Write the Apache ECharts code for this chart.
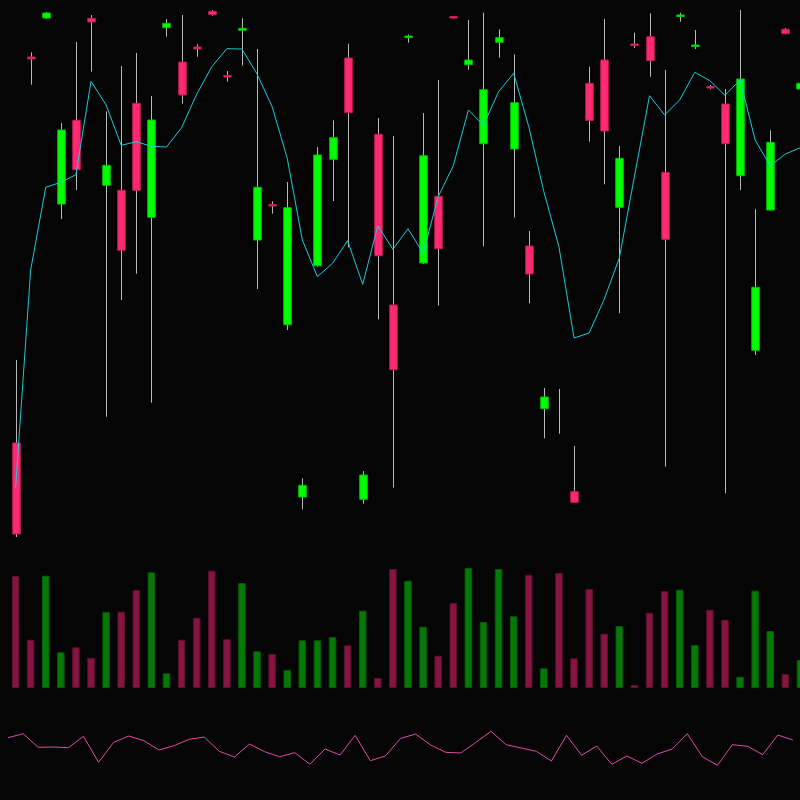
<!DOCTYPE html>
<html>
<head>
<meta charset="utf-8">
<script src="https://cdn.jsdelivr.net/npm/echarts@6/dist/echarts.min.js"></script>
<style>
html,body{margin:0;padding:0;background:#050505;}
#c{width:800px;height:800px;}
</style>
</head>
<body>
<div id="c"></div>
<script>
const categories = ['1','2','3','4','5','6','7','8','9','10','11','12','13','14','15','16','17','18','19','20','21','22','23','24','25','26','27','28','29','30','31','32','33','34','35','36','37','38','39','40','41','42','43','44','45','46','47','48','49','50','51','52','53'];
const oscCategories = ['a1','a2','a3','a4','a5','a6','a7','a8','a9','a10','a11','a12','a13','a14','a15','a16','a17','a18','a19','a20','a21','a22','a23','a24','a25','a26','a27','a28','a29','a30','a31','a32','a33','a34','a35','a36','a37','a38','a39','a40','a41','a42','a43','a44','a45','a46','a47','a48','a49','a50','a51','a52','a53','a54'];

const opens  = [97,483,522,336,419.7,521.7,354.7,349.7,436.7,322.7,512.3,478,493,528.7,464.5,509.7,300,335.5,215.3,43,274.3,380.7,482,40.7,405.7,235,502.5,277,343.7,523.5,475.3,396.3,497.7,391,294,131.3,129,48.3,456.7,480,332.7,496,503.3,367.7,523.5,493.5,453.5,436,364.3,189.7,330,510.7,451];
const closes = [6,481,527,410,370.3,518,374.7,289.7,349.7,420,516.7,445,491,525.3,463,511.7,352.7,334,332.3,54.7,385,402.3,427.3,65,284.3,170.3,504,384.3,291.3,522,480,450.3,502.3,437.3,266,143,129,37.7,419.7,409,381.7,494.5,479.3,300.7,525,495,452,396.3,461,252.7,397.7,506.3,456.7];
const lows   = [3,455.3,521,321,350,468.3,123.3,240,266.3,137.3,503.3,436.3,483.3,524.3,458.3,474.3,251,326.3,210,30.7,273.3,339,292.7,36.3,220.7,52.3,497.3,276,234.3,521.5,470.3,293.7,482.3,322.3,236.7,101.7,106.3,37.7,398.3,355.7,226.7,492,463.3,73.3,518.3,491,450.7,46.7,350,185,329.3,505.7,420];
const highs  = [180,487.7,528,417,498,525,428.7,474,487,444,521,525,495.7,530,469,521.7,491,338.7,358,61.7,393,419.7,496.3,69,422,404,505.3,427,460,524,520,527.3,510.7,485.7,309,152,151,94,473.3,521,394,507.3,526.7,470,527.3,510,455,451,530,330.7,409.7,512,457];
const maLine = [52,270,352.7,357.7,365.3,458.7,435,394.7,398.3,393.7,393,412.3,445.7,473.3,491.3,491,466,433.3,381.7,300,263.3,276.7,299.3,255.7,314.3,290.7,311.3,286.7,343.3,374.3,430,414.7,448.3,466.7,413.3,348.3,293.3,202,207,240.7,282,363.3,444.3,425,440,467.7,459.3,444.7,460,400,374,386,392.3];
const volumes = [112,48.3,112.3,35.7,40.7,30.3,76,76.3,98,115.7,14.7,48.3,70.3,117.3,49,105,36.7,34,18,47.7,47.7,51,42.7,77.3,10,119,107.3,61.3,32.3,85,120,66,119,71.7,113.3,19.7,115,29.7,99,54.3,62,3,75.3,97,98.3,43,78.3,68.3,11.3,97.3,57,14,28];
const oscillator = [42.3,46.3,32.7,33,32.3,43.7,17.7,37.7,44,39.3,30,34.3,40.7,43,28.7,23,36,28.3,23.3,27.3,15.7,31,25,44.7,19.3,24,41.5,46,35,27.7,27,37.7,48.7,35.3,32,28.7,19,44.7,24.7,34,15.7,24,16.7,26,31,46.3,23.3,14.7,35.3,33.7,25.3,45,40];

const UP = '#00ff00', UP_EDGE = '#00c400';
const DOWN = '#ff2a72', DOWN_EDGE = '#c01c56';
const VUP = '#067a06', VUP_EDGE = '#045a04';
const VDOWN = '#861641', VDOWN_EDGE = '#5c0e2c';

const candleData = categories.map((c, i) => [i, opens[i], closes[i], lows[i], highs[i]]);
const volData = volumes.map((v, i) => ({
  value: v,
  itemStyle: closes[i] > opens[i]
    ? { color: VUP, borderColor: VUP_EDGE, borderWidth: 1 }
    : { color: VDOWN, borderColor: VDOWN_EDGE, borderWidth: 1 }
}));

const chart = echarts.init(document.getElementById('c'), null, { renderer: 'canvas' });
chart.setOption({
  backgroundColor: '#050505',
  animation: false,
  grid: [
    { left: 8, width: 800, top: 0, height: 540, outerBoundsMode: 'none', containLabel: false },
    { left: 8, width: 800, top: 560, height: 128, outerBoundsMode: 'none', containLabel: false },
    { left: 8, width: 800, top: 700, height: 80, outerBoundsMode: 'none', containLabel: false }
  ],
  xAxis: [
    { type: 'category', gridIndex: 0, data: categories, boundaryGap: true, show: false },
    { type: 'category', gridIndex: 1, data: categories, boundaryGap: true, show: false },
    { type: 'category', gridIndex: 2, data: oscCategories, boundaryGap: false, show: false }
  ],
  yAxis: [
    { type: 'value', gridIndex: 0, min: 0, max: 540, show: false },
    { type: 'value', gridIndex: 1, min: 0, max: 128, show: false },
    { type: 'value', gridIndex: 2, min: 0, max: 80, show: false }
  ],
  series: [
    {
      type: 'custom',
      xAxisIndex: 0, yAxisIndex: 0,
      data: candleData,
      encode: { x: 0, y: [1, 2, 3, 4] },
      renderItem: function (params, api) {
        const i = api.value(0);
        const o = api.value(1), c = api.value(2), l = api.value(3), h = api.value(4);
        const pt = api.coord([i, h]), pb = api.coord([i, l]);
        const po = api.coord([i, o]), pc = api.coord([i, c]);
        const bw = api.size([1, 0])[0] * 0.5;
        const up = c > o;
        const x = Math.round(pt[0]) + 0.5;
        const children = [{
          type: 'line',
          shape: { x1: x, y1: pt[1], x2: x, y2: pb[1] },
          style: { stroke: '#b8b8b8', lineWidth: 1 }
        }];
        if (o !== c) {
          children.push({
            type: 'rect',
            shape: { x: x - bw / 2, y: Math.min(po[1], pc[1]), width: bw, height: Math.abs(po[1] - pc[1]) },
            style: { fill: up ? UP : DOWN, stroke: up ? UP_EDGE : DOWN_EDGE, lineWidth: 1 }
          });
        }
        return { type: 'group', children: children };
      },
      z: 2
    },
    {
      type: 'line',
      xAxisIndex: 0, yAxisIndex: 0,
      data: maLine,
      symbol: 'none',
      lineStyle: { color: '#19ccd9', width: 1 },
      z: 3
    },
    {
      type: 'bar',
      xAxisIndex: 1, yAxisIndex: 1,
      data: volData,
      barWidth: '50%'
    },
    {
      type: 'line',
      xAxisIndex: 2, yAxisIndex: 2,
      data: oscillator,
      symbol: 'none',
      lineStyle: { color: '#e04ca6', width: 1 }
    }
  ]
});
</script>
</body>
</html>
